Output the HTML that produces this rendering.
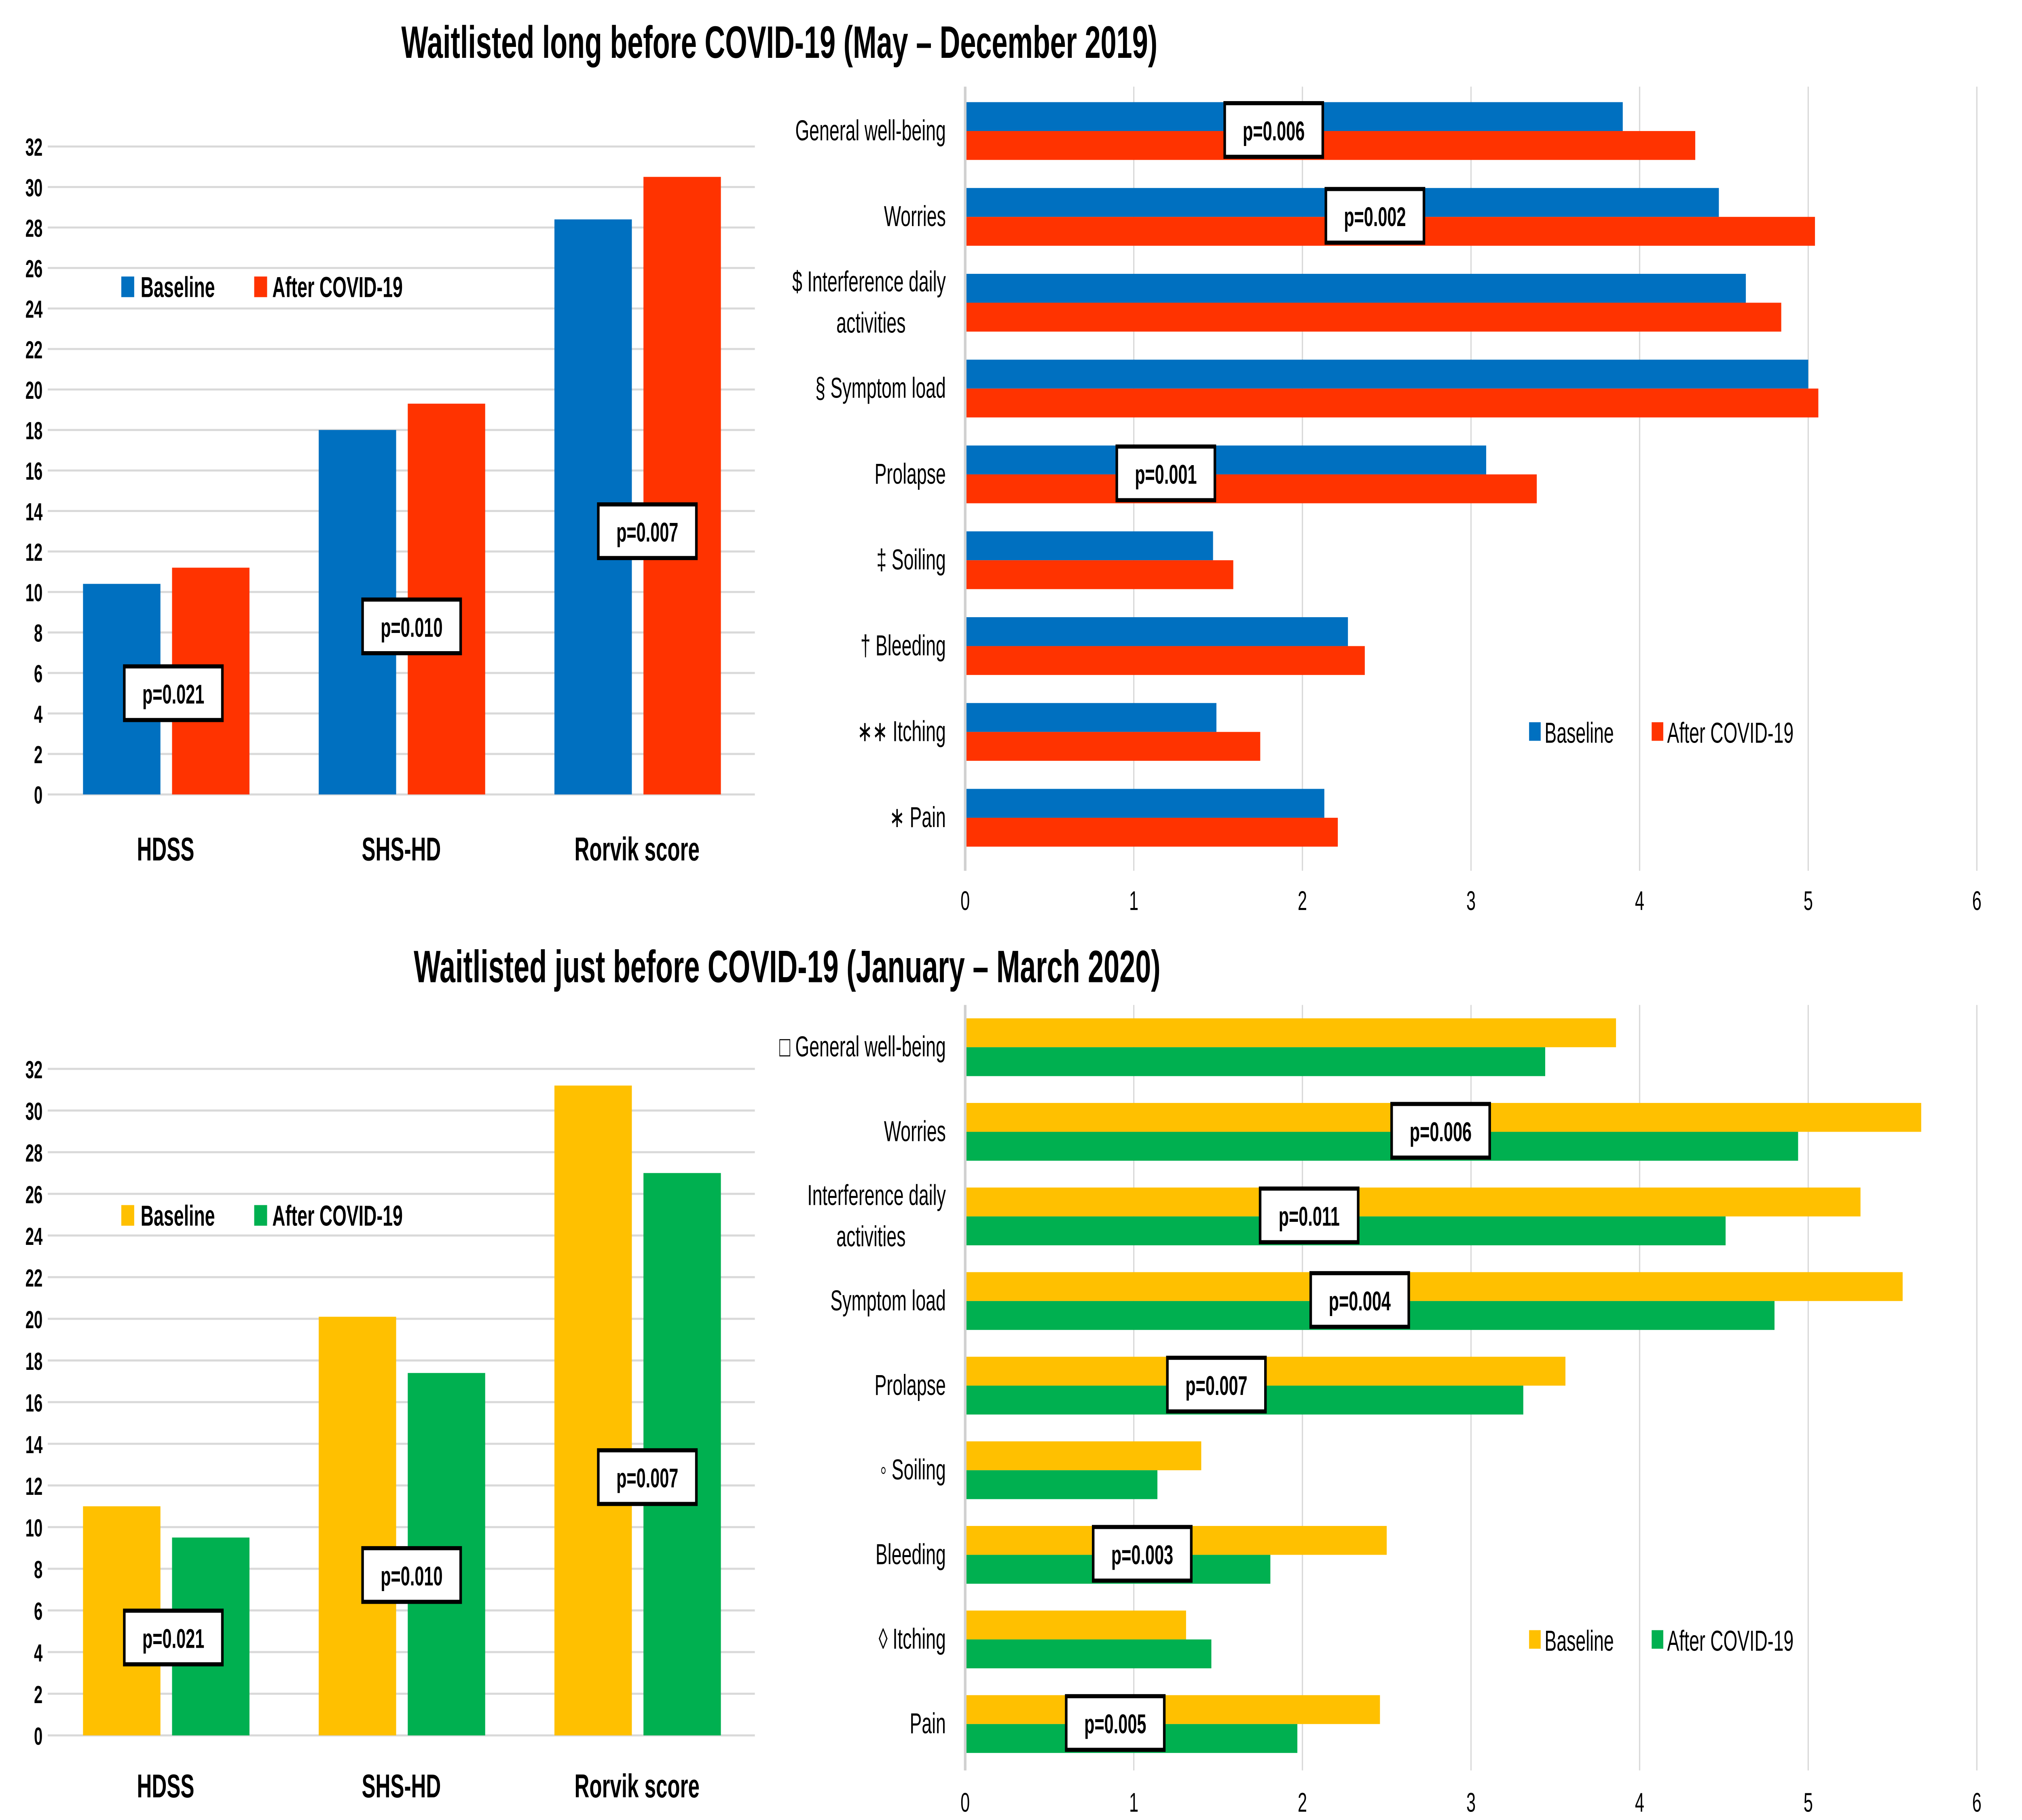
<!DOCTYPE html>
<html><head><meta charset="utf-8"><style>
html,body{margin:0;padding:0;background:#fff;width:100%;height:100%;overflow:hidden;}
svg{display:block;position:absolute;left:0;top:0;width:100vw;height:100vh;font-family:"Liberation Sans","DejaVu Sans",sans-serif;}
</style></head><body>
<svg id="root" viewBox="0 0 1567 882" preserveAspectRatio="none" xmlns="http://www.w3.org/2000/svg">
<text x="604" y="28" font-size="22" font-weight="bold" text-anchor="middle">Waitlisted long before COVID-19 (May – December 2019)</text>
<text x="610" y="476" font-size="22" font-weight="bold" text-anchor="middle">Waitlisted just before COVID-19 (January – March 2020)</text>
</svg>
<script>
// ---- data ----
const vCategories = ["HDSS", "SHS-HD", "Rorvik score"];
const vTicks = [0,2,4,6,8,10,12,14,16,18,20,22,24,26,28,30,32];
const topVBaseline = [10.4, 18.0, 28.4];
const topVAfter = [11.2, 19.3, 30.5];
const botVBaseline = [11.0, 20.1, 31.2];
const botVAfter = [9.5, 17.4, 27.0];
const vPvalues = ["p=0.021", "p=0.010", "p=0.007"];
const topVPpos = [5.0, 8.3, 13.0];
const botVPpos = [4.7, 7.7, 12.4];

const topHLabels = [["General well-being"],["Worries"],["$  Interference daily","activities"],["§  Symptom load"],["Prolapse"],["‡  Soiling"],["†  Bleeding"],["∗∗  Itching"],["∗  Pain"]];
const botHLabels = [["□  General well-being"],["Worries"],["Interference daily","activities"],["Symptom load"],["Prolapse"],["◦ Soiling"],["Bleeding"],["◊  Itching"],["Pain"]];
const hTicks = [0,1,2,3,4,5,6];
const topHBaseline = [3.90, 4.47, 4.63, 5.00, 3.09, 1.47, 2.27, 1.49, 2.13];
const topHAfter = [4.33, 5.04, 4.84, 5.06, 3.39, 1.59, 2.37, 1.75, 2.21];
const botHBaseline = [3.86, 5.67, 5.31, 5.56, 3.56, 1.40, 2.50, 1.31, 2.46];
const botHAfter = [3.44, 4.94, 4.51, 4.80, 3.31, 1.14, 1.81, 1.46, 1.97];
const topHP = [["p=0.006",1.83],["p=0.002",2.43],null,null,["p=0.001",1.19],null,null,null,null];
const botHP = [null,["p=0.006",2.82],["p=0.011",2.04],["p=0.004",2.34],["p=0.007",1.49],null,["p=0.003",1.05],null,["p=0.005",0.89]];

const NS="http://www.w3.org/2000/svg";
const root=document.getElementById('root');
function mk(tag,attrs,parent,text){const e=document.createElementNS(NS,tag);for(const k in attrs)e.setAttribute(k,attrs[k]);if(text!==undefined)e.textContent=text;(parent||root).appendChild(e);return e;}

function pbox(g,cx,cy,label){
  const b=mk('rect',{x:cx-38,y:cy-13,width:76,height:26,fill:'#fff',stroke:'#000','stroke-width':2},g);
  
  
  const t=mk('text',{x:cx,y:cy+5,'font-size':13,'font-weight':'bold','text-anchor':'middle'},g,label);
  
  
}

function vchart(name,y0,y32,base,after,c1,c2,ppos,legY,legX,catY){
  const g=mk('g',{},root);
  
  
  const ys=v=>y0+(y32-y0)*v/32;
  const x0=37,x1=585,cw=(x1-x0)/3;
  vTicks.forEach(t=>{
    const l=mk('line',{x1:x0,x2:x1,y1:ys(t),y2:ys(t),stroke:'#d9d9d9','stroke-width':1},g);
    
    
    const tx=mk('text',{x:33,y:ys(t)+4.5,'font-size':12,'font-weight':'bold','text-anchor':'end'},g,t);
    
    
  });
  vCategories.forEach((c,i)=>{
    const cx=x0+cw*(i+0.5);
    const r1=mk('rect',{x:cx-64,y:ys(base[i]),width:60,height:ys(0)-ys(base[i]),fill:c1},g);
    
    
    const r2=mk('rect',{x:cx+5,y:ys(after[i]),width:60,height:ys(0)-ys(after[i]),fill:c2},g);
    
    
    const t=mk('text',{x:cx,y:catY,'font-size':16,'font-weight':'bold','text-anchor':'middle'},g,c);
    
    
    pbox(g,cx+(i==0?6:8),ys(ppos[i]),vPvalues[i]);
  });
  const s1=mk('rect',{x:legX,y:legY-6,width:10,height:10,fill:c1},g);
  
  
  const l1=mk('text',{x:legX+15,y:legY+4,'font-size':14,'font-weight':'bold'},g,'Baseline');
  
  
  const s2=mk('rect',{x:legX+103,y:legY-6,width:10,height:10,fill:c2},g);
  
  
  const l2=mk('text',{x:legX+117,y:legY+4,'font-size':14,'font-weight':'bold'},g,'After COVID-19');
  
  
}

function hchart(name,labels,base,after,c1,c2,pv,firstY,step,gTop,gBot,tickY,legY){
  const g=mk('g',{},root);
  
  
  const xs=v=>748+(1532-748)*v/6;
  hTicks.forEach(t=>{
    const l=mk('line',{x1:xs(t),x2:xs(t),y1:gTop,y2:gBot,stroke:t==0?'#d0d0d0':'#d9d9d9','stroke-width':t==0?2:1},g);
    
    
    const tx=mk('text',{x:xs(t),y:tickY,'font-size':13,'text-anchor':'middle'},g,t);
    
    
  });
  labels.forEach((lab,i)=>{
    const cy=firstY+step*i;
    const r1=mk('rect',{x:xs(0)+1,y:cy-13.5,width:xs(base[i])-xs(0)-1,height:14,fill:c1},g);
    
    
    const r2=mk('rect',{x:xs(0)+1,y:cy+0.5,width:xs(after[i])-xs(0)-1,height:14,fill:c2},g);
    
    
    if(lab.length==1){
      const t=mk('text',{x:733,y:cy+5,'font-size':14,'text-anchor':'end'},g,lab[0]);
      
      
    } else {
      const t=mk('text',{x:733,y:cy-5,'font-size':14,'text-anchor':'end'},g,lab[0]);
      
      
      const t2=mk('text',{x:675,y:cy+15,'font-size':14,'text-anchor':'middle'},g,lab[1]);
      
      
    }
    if(pv[i]) pbox(g,xs(pv[i][1]),cy,pv[i][0]);
  });
  const s1=mk('rect',{x:1185,y:legY-5,width:9,height:9,fill:c1},g);
  
  
  const l1=mk('text',{x:1197,y:legY+5,'font-size':14},g,'Baseline');
  
  
  const s2=mk('rect',{x:1280,y:legY-5,width:9,height:9,fill:c2},g);
  
  
  const l2=mk('text',{x:1292,y:legY+5,'font-size':14},g,'After COVID-19');
  
  
}

vchart('top-left-bar-chart',385,71,topVBaseline,topVAfter,'#0070C0','#FF3300',topVPpos,140,94,417);
vchart('bottom-left-bar-chart',841,518,botVBaseline,botVAfter,'#FFC000','#00B050',botVPpos,590,94,871);
hchart('top-right-bar-chart',topHLabels,topHBaseline,topHAfter,'#0070C0','#FF3300',topHP,63,41.6,42,422,441,355);
hchart('bottom-right-bar-chart',botHLabels,botHBaseline,botHAfter,'#FFC000','#00B050',botHP,507,41,487,858,878,795);
</script>
</body></html>
